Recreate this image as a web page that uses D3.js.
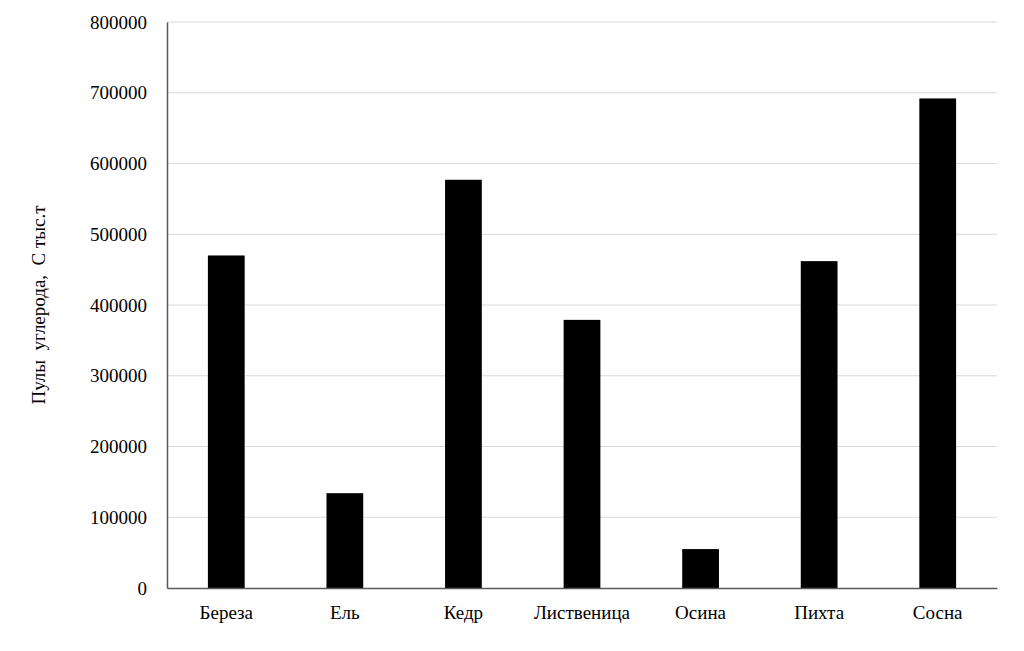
<!DOCTYPE html>
<html>
<head>
<meta charset="utf-8">
<script src="https://cdn.jsdelivr.net/npm/d3@7"></script>
<style>
  body { margin: 0; background: #fff; }
  text { font-family: "Liberation Serif", "Times New Roman", serif; fill: #000; }
</style>
</head>
<body>
<svg id="chart" width="1024" height="651"></svg>
<script>
const categories = ["Береза", "Ель", "Кедр", "Лиственица", "Осина", "Пихта", "Сосна"]
const values = [470000, 134000, 577000, 379000, 55000, 462000, 692000]
const yTicks = [0, 100000, 200000, 300000, 400000, 500000, 600000, 700000, 800000]

const margin = { left: 167, right: 27, top: 22, bottom: 63 }
const width = 1024, height = 651
const svg = d3.select("#chart")

const x = d3.scaleBand()
  .domain(categories)
  .range([margin.left, width - margin.right])
  .paddingInner(0.69)
  .paddingOuter(0.345)

const y = d3.scaleLinear()
  .domain([0, 800000])
  .range([height - margin.bottom, margin.top])

// grid lines
svg.append("g")
  .selectAll("line")
  .data(yTicks.slice(1))
  .join("line")
  .attr("x1", margin.left)
  .attr("x2", width - margin.right)
  .attr("y1", d => y(d))
  .attr("y2", d => y(d))
  .attr("stroke", "#d9d9d9")
  .attr("stroke-width", 1)

// bars
svg.append("g")
  .selectAll("rect")
  .data(values)
  .join("rect")
  .attr("x", (d, i) => x(categories[i]))
  .attr("width", x.bandwidth())
  .attr("y", d => y(d))
  .attr("height", d => y(0) - y(d))
  .attr("fill", "#000")

// y axis
const yAxis = svg.append("g")
  .attr("transform", `translate(${margin.left},0)`)
  .call(d3.axisLeft(y).tickValues(yTicks).tickSize(0).tickPadding(20).tickFormat(d3.format("d")))
yAxis.select(".domain").attr("stroke", "#595959").attr("stroke-width", 1.5)
yAxis.selectAll("text").style("font-size", "19px")

// x axis
const xAxis = svg.append("g")
  .attr("transform", `translate(0,${y(0)})`)
  .call(d3.axisBottom(x).tickSize(0).tickPadding(18))
xAxis.select(".domain").attr("stroke", "#595959").attr("stroke-width", 1.5)
xAxis.selectAll("text").style("font-size", "19px")

// y label
svg.append("text")
  .attr("transform", `translate(45,${(margin.top + y(0)) / 2}) rotate(-90)`)
  .attr("text-anchor", "middle")
  .style("font-size", "19px")
  .style("white-space", "pre")
  .text("Пулы  углерода,  С тыс.т")
</script>
</body>
</html>
